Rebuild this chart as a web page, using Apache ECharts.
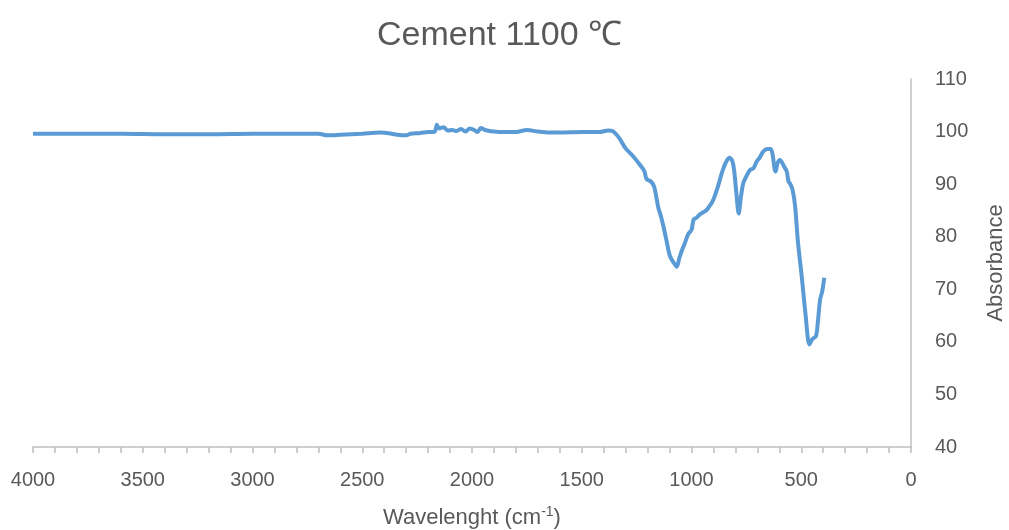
<!DOCTYPE html>
<html>
<head>
<meta charset="utf-8">
<script src="https://cdn.jsdelivr.net/npm/echarts@6/dist/echarts.min.js"></script>
<style>html,body{margin:0;padding:0;background:#fff;}#c{width:1009px;height:530px;}</style>
</head>
<body>
<div id="c"></div>
<script>
const wavenumbers = [4000,3800,3600,3400,3200,3000,2800,2700,2660,2600,2500,2420,2380,2340,2300,2280,2240,2200,2170,2160,2150,2130,2110,2090,2070,2050,2030,2010,1990,1975,1960,1940,1900,1850,1800,1750,1700,1650,1600,1500,1420,1380,1360,1330,1300,1270,1235,1215,1205,1185,1170,1151,1140,1128,1115,1098,1080,1067,1055,1040,1030,1015,1005,999,990,977,960,931,915,901,880,862,845,828,815,806,795,785,775,764,750,733,718,703,690,673,655,639,630,622,617,608,597,580,566,558,551,540,528,515,498,480,463,450,433,425,414,405,395];
const absorbance = [99.6,99.6,99.6,99.5,99.5,99.6,99.6,99.6,99.3,99.4,99.6,99.8,99.7,99.4,99.3,99.6,99.7,99.9,100.0,101.3,100.6,100.8,100.2,100.3,100.1,100.5,100.0,100.6,100.3,99.9,100.7,100.3,100.0,99.9,99.9,100.3,100.0,99.8,99.8,99.9,99.9,100.2,100.1,98.8,96.8,95.5,93.7,92.5,91.0,90.5,89.5,85.5,84.0,82.0,79.5,76.3,75.0,74.3,76.0,77.8,78.8,80.5,81.0,81.4,83.3,83.6,84.3,85.1,86.0,87.0,89.5,92.1,94.0,95.0,94.5,92.7,88.0,84.4,87.5,90.2,91.5,92.7,93.0,94.3,95.0,96.2,96.7,96.7,95.5,93.0,92.4,94.0,94.6,93.5,92.4,90.5,90.1,89.0,85.8,79.0,72.5,65.0,59.5,60.5,61.1,63.5,68.1,69.5,72.2];
const xMin = 0, xMax = 4000, xStep = 500;
const yMin = 40, yMax = 110, yStep = 10;
const titleText = 'Cement 1100 ℃';
const xName = '{a|Wavelenght (cm}{s|-1}{a|)}';
const yName = 'Absorbance';

const font = 'Liberation Sans, Arial, sans-serif';
const txt = '#595959';
const chart = echarts.init(document.getElementById('c'));
chart.setOption({
  animation: false,
  backgroundColor: '#fff',
  title: {text: titleText, left: 372, top: 14,
    textStyle: {fontFamily: font, fontSize: 34, fontWeight: 'normal', color: txt}},
  grid: {left: 33, right: 98, top: 79, bottom: 83, outerBoundsMode: 'none', containLabel: false},
  xAxis: {
    type: 'value', inverse: true, min: xMin, max: xMax, interval: xStep,
    axisLine: {show: true, lineStyle: {color: '#bfbfbf', width: 1.5}},
    axisTick: {show: true, inside: false, length: 6, lineStyle: {color: '#bfbfbf', width: 1.5}},
    minorTick: {show: true, splitNumber: 5, length: 6, lineStyle: {color: '#bfbfbf', width: 1.5}},
    splitLine: {show: false},
    axisLabel: {margin: 23, fontFamily: font, fontSize: 20, color: txt, formatter: v => String(v)},
    name: xName, nameLocation: 'middle', nameGap: 58,
    nameTextStyle: {rich: {
      a: {fontFamily: font, fontSize: 22, color: txt, lineHeight: 26},
      s: {fontFamily: font, fontSize: 14, color: txt, verticalAlign: 'top', lineHeight: 26}
    }}
  },
  yAxis: {
    type: 'value', position: 'right', min: yMin, max: yMax, interval: yStep,
    axisLine: {show: true, lineStyle: {color: '#bfbfbf', width: 1.5}},
    axisTick: {show: false},
    splitLine: {show: false},
    axisLabel: {margin: 24, fontFamily: font, fontSize: 20, color: txt, formatter: v => String(v)},
    name: yName, nameLocation: 'middle', nameRotate: 90, nameGap: 74,
    nameTextStyle: {fontFamily: font, fontSize: 22, color: txt}
  },
  series: [{
    type: 'line', showSymbol: false, smooth: 0.3,
    data: wavenumbers.map((w, i) => [w, absorbance[i]]),
    lineStyle: {color: '#5b9bd5', width: 4},
    itemStyle: {color: '#5b9bd5'}
  }]
});
</script>
</body>
</html>
